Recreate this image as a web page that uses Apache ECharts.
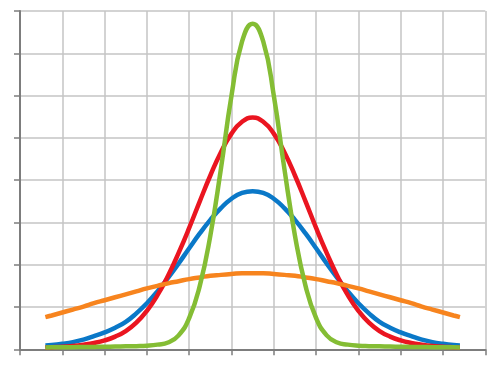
<!DOCTYPE html>
<html>
<head>
<meta charset="utf-8">
<script src="https://cdn.jsdelivr.net/npm/echarts@6/dist/echarts.min.js"></script>
<style>html,body{margin:0;padding:0;background:#fff;}#c{width:500px;height:366px;}</style>
</head>
<body>
<div id="c"></div>
<script>
var xValues = [0.6,0.75,1,1.25,1.5,1.75,2,2.25,2.5,2.75,3,3.25,3.5,3.75,4,4.25,4.5,4.75,5,5.25,5.5,5.75,6,6.25,6.5,6.75,7,7.25,7.5,7.75,8,8.25,8.5,8.75,9,9.25,9.5,9.75,10,10.25,10.4];
var blueValues = [0.09,0.10,0.13,0.17,0.23,0.31,0.40,0.51,0.65,0.85,1.09,1.37,1.69,2.03,2.39,2.74,3.06,3.34,3.56,3.70,3.74,3.70,3.56,3.34,3.06,2.74,2.39,2.03,1.69,1.37,1.09,0.85,0.65,0.51,0.40,0.31,0.23,0.17,0.13,0.10,0.09];
var redValues = [0.045,0.05,0.06,0.08,0.11,0.15,0.21,0.30,0.43,0.63,0.91,1.28,1.74,2.28,2.87,3.50,4.11,4.66,5.10,5.38,5.48,5.38,5.10,4.66,4.11,3.50,2.87,2.28,1.74,1.28,0.91,0.63,0.43,0.30,0.21,0.15,0.11,0.08,0.06,0.05,0.045];
var orangeValues = [0.76,0.80,0.87,0.94,1.01,1.09,1.16,1.23,1.30,1.37,1.44,1.50,1.56,1.61,1.66,1.70,1.74,1.76,1.78,1.80,1.80,1.80,1.78,1.76,1.74,1.70,1.66,1.61,1.56,1.50,1.44,1.37,1.30,1.23,1.16,1.09,1.01,0.94,0.87,0.80,0.76];
var greenValues = [0.045,0.046,0.048,0.051,0.054,0.057,0.06,0.065,0.07,0.075,0.085,0.11,0.16,0.33,0.74,1.50,2.69,4.27,6.00,7.28,7.70,7.28,6.00,4.27,2.69,1.50,0.74,0.33,0.16,0.11,0.085,0.075,0.07,0.065,0.06,0.057,0.054,0.051,0.048,0.046,0.045];

function pairs(vals) { return xValues.map(function (x, i) { return [x, vals[i]]; }); }
function mk(name, vals, color) {
  return { name: name, type: 'line', data: pairs(vals), smooth: true, symbol: 'none',
    lineStyle: { color: color, width: 4.5 }, itemStyle: { color: color } };
}
var chart = echarts.init(document.getElementById('c'), null, { renderer: 'canvas' });
var axisGray = '#7d7d7d';
var gridGray = '#c4c4c4';
chart.setOption({
  animation: false,
  backgroundColor: '#ffffff',
  grid: { left: 20, top: 11, right: 14.7, bottom: 16.7, containLabel: false },
  xAxis: { type: 'value', min: 0, max: 11, interval: 1,
    axisLine: { show: true, lineStyle: { color: axisGray, width: 2 } },
    axisTick: { show: true, length: 6, lineStyle: { color: axisGray, width: 1.5 } },
    axisLabel: { show: false },
    splitLine: { show: true, lineStyle: { color: gridGray, width: 1.5 } } },
  yAxis: { type: 'value', min: 0, max: 8, interval: 1,
    axisLine: { show: true, onZero: false, lineStyle: { color: axisGray, width: 2 } },
    axisTick: { show: true, length: 6, lineStyle: { color: axisGray, width: 1.5 } },
    axisLabel: { show: false },
    splitLine: { show: true, lineStyle: { color: gridGray, width: 1.5 } } },
  series: [
    mk('blue', blueValues, '#0a78c8'),
    mk('red', redValues, '#ea1520'),
    mk('orange', orangeValues, '#f7841e'),
    mk('green', greenValues, '#84bd34')
  ]
});
</script>
</body>
</html>
